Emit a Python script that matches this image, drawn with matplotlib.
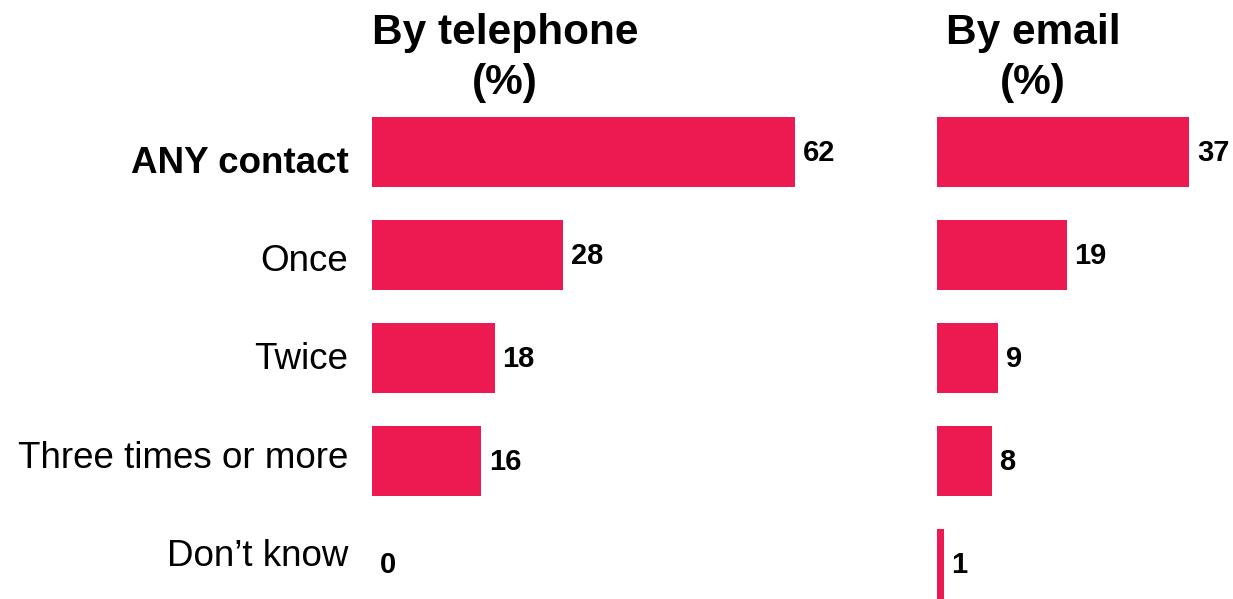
import matplotlib
matplotlib.use("Agg")
import matplotlib.pyplot as plt

plt.rcParams['font.family'] = ['Liberation Sans', 'DejaVu Sans']

categories = ["ANY contact", "Once", "Twice", "Three times or more", "Don\u2019t know"]
telephone = [62, 28, 18, 16, 0]
email = [37, 19, 9, 8, 1]
titles = ["By telephone\n(%)", "By email\n(%)"]

BAR_COLOR = "#EC1A50"
W, H = 1233, 599
fig = plt.figure(figsize=(W / 100, H / 100), dpi=100)

scale = 6.82  # px per unit
top_px, bot_px = 100, 599
ylim = (4.34, -0.505)

def make_ax(left_px, width_px):
    ax = fig.add_axes([left_px / W, (H - bot_px) / H, width_px / W, (bot_px - top_px) / H])
    ax.set_xlim(0, width_px / scale)
    ax.set_ylim(*ylim)
    ax.axis("off")
    return ax

ax1 = make_ax(372, 500)
ax2 = make_ax(937, 290)

ypos = list(range(len(categories)))
for ax, vals in ((ax1, telephone), (ax2, email)):
    ax.barh(ypos, vals, height=0.68, color=BAR_COLOR, clip_on=False)
    for y, v in zip(ypos, vals):
        ax.annotate(str(v), xy=(v, y), xytext=(5.5, -1), textcoords="offset points",
                    ha="left", va="center", fontsize=21, fontweight="bold", color="black")

label_step = 0.954
label_off = 0.11
for i, c in enumerate(categories):
    ax1.annotate(c, xy=(0, label_off + i * label_step), xytext=(-17, 0), textcoords="offset points",
                 ha="right", va="center", fontsize=26.5,
                 fontweight="bold" if i == 0 else "normal", color="black")

fig.text(505 / W, 1 - 58 / H, titles[0], ha="center", va="center", fontsize=30.5,
         fontweight="bold", linespacing=1.35)
fig.text(1033 / W, 1 - 58 / H, titles[1], ha="center", va="center", fontsize=30.5,
         fontweight="bold", linespacing=1.35)

fig.savefig("out.png", dpi=100, facecolor="white")
